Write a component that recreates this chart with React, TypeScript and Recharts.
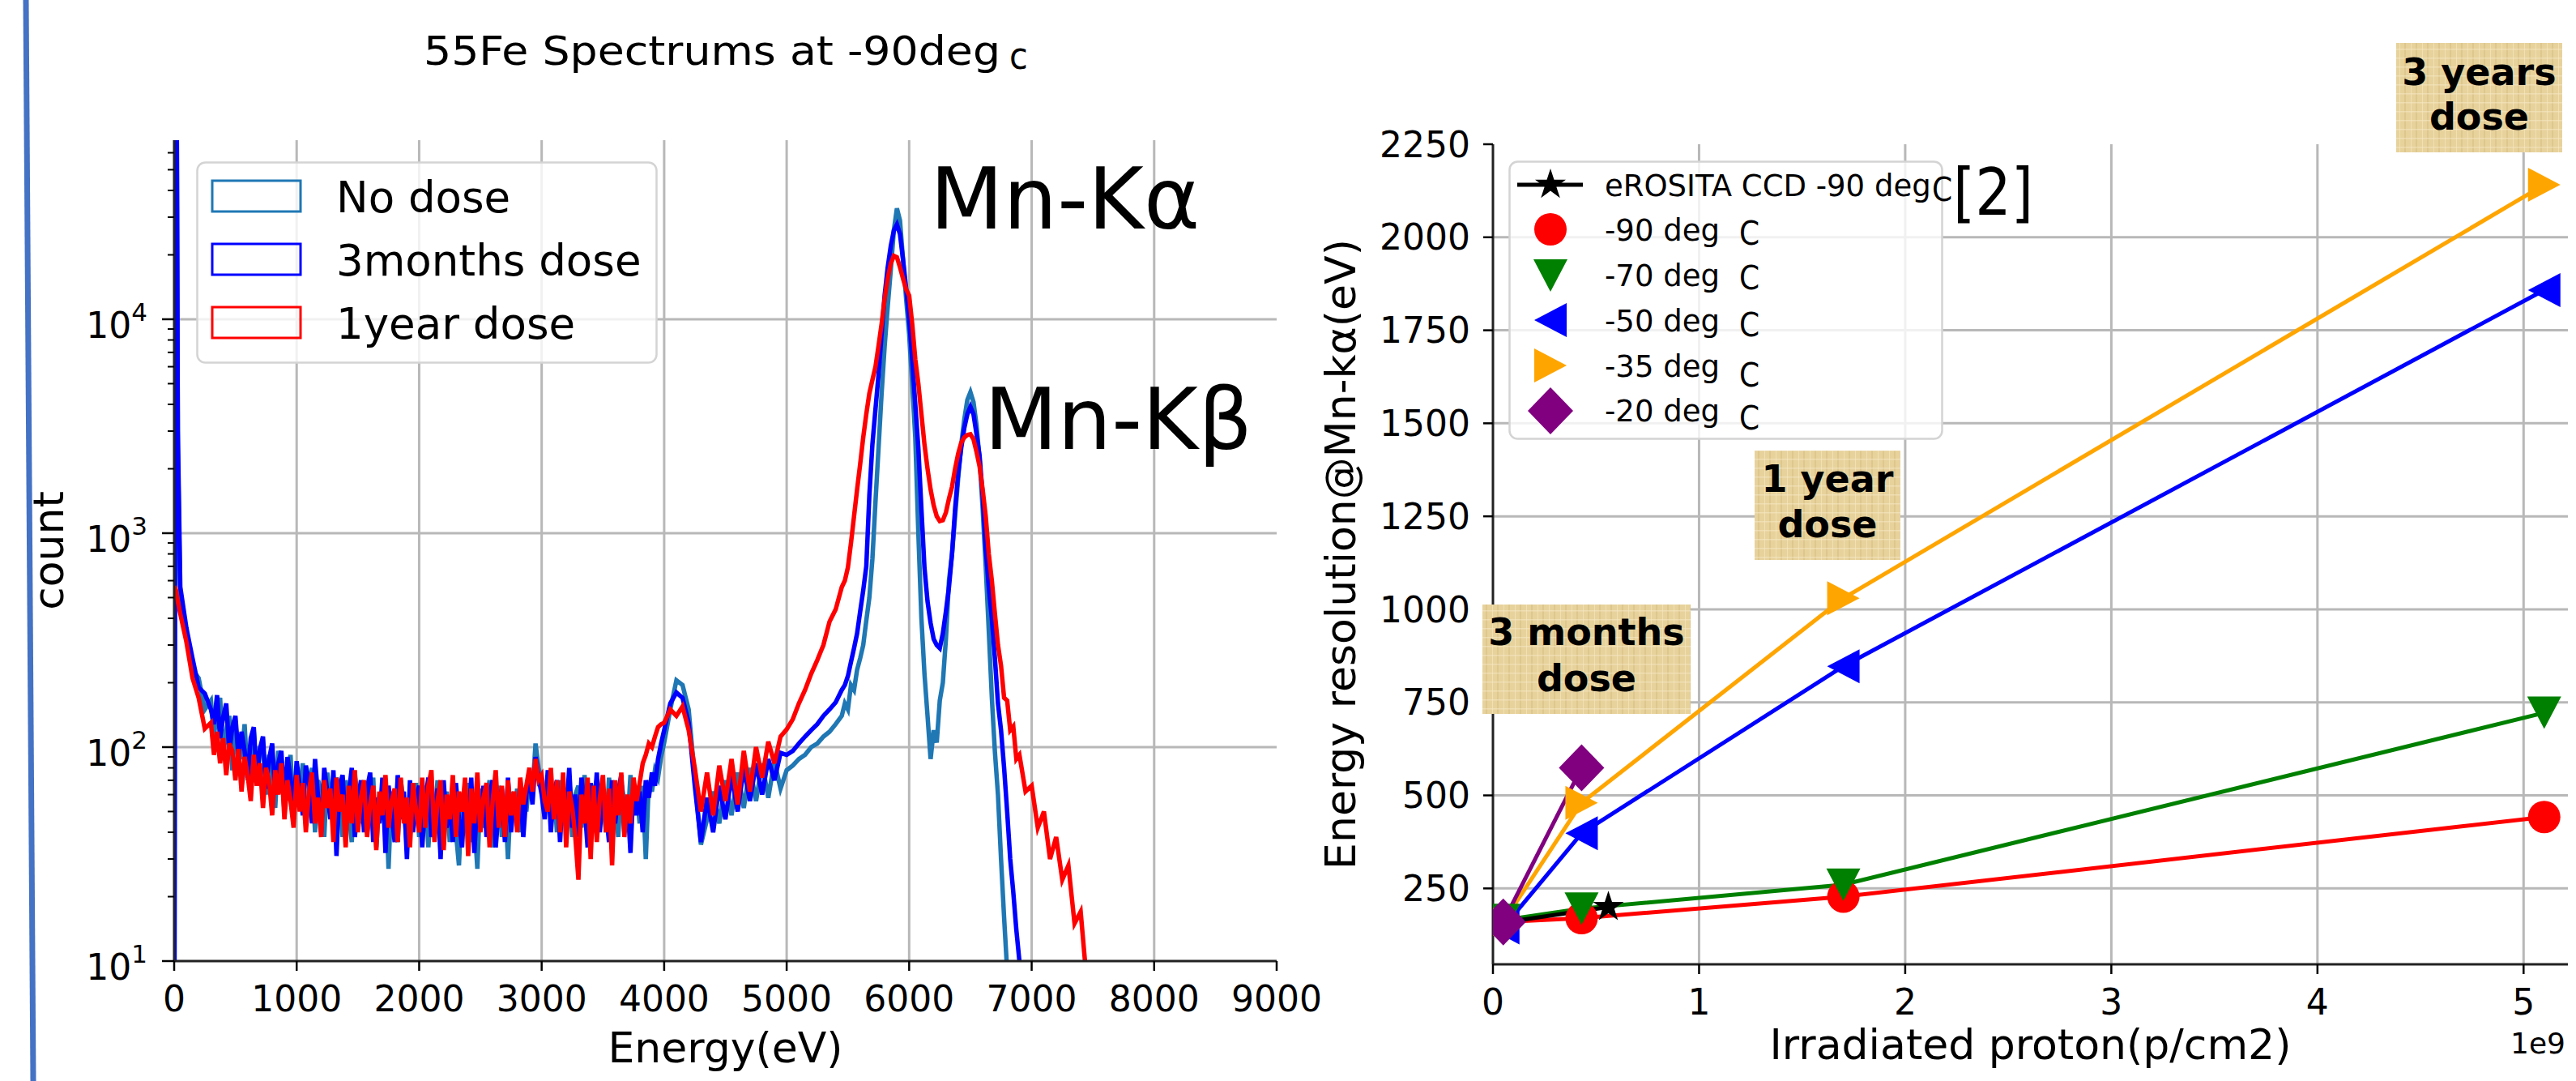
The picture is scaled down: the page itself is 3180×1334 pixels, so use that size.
import React from 'react';
import { LineChart, Line, XAxis, YAxis, CartesianGrid, Legend } from 'recharts';

const F = "'DejaVu Sans', 'Noto Sans', sans-serif";
const FB = "'DejaVu Sans', 'Noto Sans', sans-serif";
const FC = "'DejaVu Sans Condensed', 'DejaVu Sans', sans-serif";

// ---------------- Left chart: 55Fe spectra ----------------
const ENERGY = [0, 15, 30,
  50, 100, 150, 200, 250,
  300, 325, 350, 375, 400, 425, 450, 475, 500, 525,
  550, 575, 600, 625, 650, 675, 700, 725, 750, 775,
  800, 825, 850, 875, 900, 925, 950, 975, 1000, 1025,
  1050, 1075, 1100, 1125, 1150, 1175, 1200, 1225, 1250, 1275,
  1300, 1325, 1350, 1375, 1400, 1425, 1450, 1475, 1500, 1525,
  1550, 1575, 1600, 1625, 1650, 1675, 1700, 1725, 1750, 1775,
  1800, 1825, 1850, 1875, 1900, 1925, 1950, 1975, 2000, 2025,
  2050, 2075, 2100, 2125, 2150, 2175, 2200, 2225, 2250, 2275,
  2300, 2325, 2350, 2375, 2400, 2425, 2450, 2475, 2500, 2525,
  2550, 2575, 2600, 2625, 2650, 2675, 2700, 2725, 2750, 2775,
  2800, 2825, 2850, 2875, 2900, 2925, 2950, 2975, 3000, 3025,
  3050, 3075, 3100, 3125, 3150, 3175, 3200, 3225, 3250, 3275,
  3300, 3325, 3350, 3375, 3400, 3425, 3450, 3475, 3500, 3525,
  3550, 3575, 3600, 3625, 3650, 3675, 3700, 3725, 3750, 3775,
  3800, 3825, 3850, 3875, 3900, 3925, 3950, 3975,
  4000,
  4050, 4100, 4150, 4200, 4250, 4300, 4350, 4400, 4450, 4500,
  4550, 4600, 4650, 4700, 4750, 4800, 4850, 4900, 4950, 5000,
  5050, 5100, 5150, 5200, 5250, 5300, 5350, 5400, 5450,
  5475, 5500, 5525, 5550, 5575, 5600, 5625, 5650, 5675, 5700,
  5725, 5750, 5775, 5800, 5825, 5850, 5875, 5900, 5925, 5950,
  5975, 6000, 6025, 6050, 6075, 6100, 6125, 6150, 6175, 6200,
  6225, 6250, 6275, 6300, 6325, 6350, 6375, 6400, 6425, 6450,
  6475, 6500, 6525, 6550, 6575, 6600, 6625, 6650, 6675, 6700,
  6725, 6750, 6775, 6800, 6825, 6850, 6875, 6900,
  6950, 7000, 7050, 7100, 7150, 7200, 7250, 7300, 7350, 7400, 7450, 7500];

const NO_DOSE = [1, 1000000, 2500,
  470, 340, 230, 210, 150,
  165, 112, 150, 170, 92, 120, 140, 78, 128, 95,
  88, 128, 70, 84, 118, 66, 100, 104, 60, 92,
  70, 52, 96, 84, 50, 74, 92, 46, 80, 60,
  84, 44, 58, 80, 40, 70, 62, 38, 76, 54,
  46, 72, 64, 38, 70, 50, 36, 74, 58, 44,
  70, 40, 60, 72, 34, 56, 46, 68, 27, 62,
  48, 36, 70, 54, 34, 64, 42, 68, 38, 52,
  66, 34, 58, 44, 70, 32, 54, 62, 36, 66,
  40, 28, 60, 50, 68, 36, 46, 27, 64, 42,
  56, 70, 34, 48, 66, 38, 58, 30, 62, 46,
  64, 40, 58, 50, 72, 62, 104, 80, 70, 52,
  74, 46, 64, 40, 70, 56, 44, 72, 38, 60,
  66, 42, 74, 48, 36, 62, 70, 44, 58, 40,
  72, 46, 60, 38, 68, 56, 42, 74, 50, 62,
  44, 66, 30, 70, 62, 78, 72, 90,
  105,
  150, 205, 195, 150, 72, 35, 46, 62, 44, 70,
  48, 76, 52, 80, 56, 84, 58, 86, 64, 78,
  82, 88, 92, 100, 104, 112, 118, 128, 140,
  160, 150, 195, 185, 230, 260, 300, 390, 500, 760,
  1400, 2500, 4500, 7500, 11500, 17000, 26000, 33000, 29000, 19000,
  12500, 8500, 5000, 2800, 1000, 400, 220, 140, 88, 120,
  105, 165, 200, 320, 600, 800, 1200, 1800, 2600, 3400,
  4200, 4560, 4100, 3200, 2200, 1300, 700, 350, 170, 95,
  60, 30, 16, 9, 6, 4, 3, 2,
  null, null, null, null, null, null, null, null, null, null, null, null];

const MONTHS3 = [1, 1000000, 3000,
  560, 360, 260, 190, 178,
  150, 128, 175, 110, 138, 160, 96, 124, 140, 90,
  118, 96, 72, 110, 124, 70, 98, 112, 64, 88,
  104, 60, 84, 96, 54, 90, 72, 50, 86, 66,
  48, 82, 70, 44, 88, 58, 40, 80, 62, 46,
  78, 31, 66, 74, 42, 60, 80, 38, 56, 70,
  40, 64, 76, 36, 58, 44, 72, 32, 66, 50,
  36, 74, 46, 62, 30, 70, 40, 58, 66, 34,
  56, 72, 38, 50, 64, 30, 70, 42, 56, 36,
  68, 46, 34, 62, 40, 72, 32, 58, 44, 66,
  38, 60, 70, 34, 52, 64, 36, 72, 40, 58,
  46, 66, 38, 60, 74, 54, 90, 72, 60, 46,
  78, 40, 62, 70, 36, 66, 48, 80, 42, 60,
  38, 72, 54, 34, 68, 46, 76, 40, 64, 50,
  36, 70, 44, 62, 74, 40, 58, 32, 66, 48,
  62, 40, 70, 58, 76, 66, 88, 104,
  120,
  160, 180, 170, 130, 66, 36, 58, 40, 66, 46,
  74, 50, 80, 56, 84, 60, 88, 70, 94, 92,
  96, 104, 112, 120, 128, 140, 150, 162, 185,
  195, 215, 250, 290, 340, 430, 540, 700, 1500, 2600,
  3800, 5500, 8500, 13000, 17500, 22000, 26000, 27700, 25000, 19000,
  14000, 10000, 6500, 4000, 2500, 1300, 690, 480, 380, 320,
  300, 290, 340, 430, 560, 800, 1300, 1900, 2500, 3100,
  3600, 3900, 3600, 2900, 2300, 1500, 850, 560, 400, 260,
  160, 120, 80, 50, 30, 21, 14, 10,
  6, null, null, null, null, null, null, null, null, null, null, null];

const YEAR1 = [565, 540, 480,
  420, 310, 210, 170, 122,
  130, 92, 118, 84, 110, 74, 104, 96, 70, 98,
  62, 90, 74, 56, 92, 66, 84, 52, 80, 70,
  48, 78, 60, 84, 46, 70, 56, 42, 74, 50,
  68, 40, 62, 76, 44, 58, 38, 70, 52, 64,
  36, 72, 50, 60, 34, 66, 44, 78, 40, 58,
  70, 38, 54, 66, 33, 62, 48, 74, 42, 56,
  64, 36, 72, 44, 58, 34, 68, 50, 40, 72,
  42, 66, 78, 36, 56, 70, 33, 60, 46, 74,
  38, 62, 50, 72, 31, 64, 44, 76, 40, 58,
  68, 34, 56, 78, 42, 66, 38, 70, 48, 62,
  40, 72, 54, 66, 80, 62, 88, 70, 74, 56,
  50, 80, 46, 70, 40, 76, 34, 62, 52, 38,
  24, 60, 44, 72, 30, 66, 36, 58, 74, 40,
  64, 28, 70, 48, 76, 38, 60, 44, 72, 56,
  68, 84, 92, 104, 100, 112, 124, 128,
  130,
  150, 140, 155, 120, 80, 50, 76, 48, 82, 56,
  88, 54, 96, 62, 100, 72, 106, 84, 112, 121,
  135, 160, 185, 220, 255, 300, 386, 440, 560,
  600, 692, 900, 1200, 1600, 2100, 2800, 3600, 4500, 5200,
  6000, 7500, 9500, 12500, 15500, 18200, 19800, 19500, 17500, 15500,
  13800, 12900, 9500, 6500, 5000, 3600, 2600, 2000, 1600, 1350,
  1200, 1140, 1150, 1250, 1450, 1650, 2000, 2350, 2650, 2800,
  2880, 2900, 2750, 2400, 2050, 1600, 1200, 800, 600, 420,
  300, 240, 170, 165, 120, 125, 88, 92,
  62, 66, 42, 50, 30, 38, 24, 28, 15, 17, 8, null];

const SPEC_SERIES = [
  { key: 'noDose', name: 'No dose', color: '#1f77b4' },
  { key: 'm3', name: '3months dose', color: '#0000ff' },
  { key: 'y1', name: '1year dose', color: '#ff0000' },
];
const E_TICKS = [0, 1000, 2000, 3000, 4000, 5000, 6000, 7000, 8000, 9000];
const E_GRID = [1000, 2000, 3000, 4000, 5000, 6000, 7000, 8000];
const COUNT_MAJOR = [10, 100, 1000, 10000];
const COUNT_MINOR = [20, 30, 40, 50, 60, 70, 80, 90, 200, 300, 400, 500, 600, 700, 800, 900,
  2000, 3000, 4000, 5000, 6000, 7000, 8000, 9000, 20000, 30000, 40000, 50000, 60000];
const COUNT_TICKS = [...COUNT_MAJOR, ...COUNT_MINOR].sort((a, b) => a - b);
const COUNT_GRID = [100, 1000, 10000];
const COUNT_DOMAIN = [10, 68700];

const specData = ENERGY.map((e, i) => ({ e, noDose: NO_DOSE[i], m3: MONTHS3[i], y1: YEAR1[i] }));

// ---------------- Right chart: energy resolution ----------------
const PROTON = [0.05, 0.43, 1.7, 5.1];
const EROSITA_PROTON = [0.05, 0.56];
const RES_EROSITA = [158, 200];
const RES_M90 = [160, 170, 228, 442];
const RES_M70 = [165, 196, 260, 722];
const RES_M50 = [145, 398, 847, 1858];
const RES_M35 = [160, 480, 1030, 2141];
const RES_M20 = [160, 574];

const RES_SERIES = [
  { id: 'm90', name: '-90 deg', color: '#ff0000', marker: 'circle', xs: PROTON, ys: RES_M90 },
  { id: 'm70', name: '-70 deg', color: '#008000', marker: 'down', xs: PROTON, ys: RES_M70 },
  { id: 'm50', name: '-50 deg', color: '#0000ff', marker: 'left', xs: PROTON, ys: RES_M50 },
  { id: 'm35', name: '-35 deg', color: '#ffa500', marker: 'right', xs: PROTON, ys: RES_M35 },
  { id: 'ero', name: 'eROSITA CCD -90 deg', color: '#000000', marker: 'star', xs: EROSITA_PROTON, ys: RES_EROSITA },
  { id: 'm20', name: '-20 deg', color: '#800080', marker: 'diamond', xs: PROTON, ys: RES_M20 },
];
const LEGEND_ORDER = ['ero', 'm90', 'm70', 'm50', 'm35', 'm20'];
const P_TICKS = [0, 1, 2, 3, 4, 5];
const P_GRID = [1, 2, 3, 4, 5];
const R_TICKS = [250, 500, 750, 1000, 1250, 1500, 1750, 2000, 2250];
const R_GRID = [250, 500, 750, 1000, 1250, 1500, 1750, 2000];

// ---------------- helpers ----------------
function starPath(cx: number, cy: number, R: number) {
  const r = R * 0.382;
  let d = '';
  for (let i = 0; i < 10; i++) {
    const a = -Math.PI / 2 + (i * Math.PI) / 5;
    const rad = i % 2 === 0 ? R : r;
    d += (i ? 'L' : 'M') + (cx + rad * Math.cos(a)).toFixed(1) + ',' + (cy + rad * Math.sin(a)).toFixed(1);
  }
  return d + 'Z';
}

function Marker({ kind, cx, cy, color }: any) {
  if (cx == null || cy == null) return null;
  switch (kind) {
    case 'circle':
      return <circle cx={cx} cy={cy} r={20} fill={color} />;
    case 'down':
      return <path d={`M${cx - 21},${cy - 20}L${cx + 21},${cy - 20}L${cx},${cy + 20}Z`} fill={color} />;
    case 'left':
      return <path d={`M${cx - 20},${cy}L${cx + 20},${cy - 21}L${cx + 20},${cy + 21}Z`} fill={color} />;
    case 'right':
      return <path d={`M${cx + 20},${cy}L${cx - 20},${cy - 21}L${cx - 20},${cy + 21}Z`} fill={color} />;
    case 'diamond':
      return <path d={`M${cx},${cy - 29}L${cx + 28},${cy}L${cx},${cy + 29}L${cx - 28},${cy}Z`} fill={color} />;
    case 'star':
      return <path d={starPath(cx, cy, 20)} fill={color} />;
    default:
      return null;
  }
}

function LogTick(props: any) {
  const { x, y, payload } = props;
  const v = payload.value;
  const lg = Math.log10(v);
  const exp = Math.round(lg);
  const major = Math.abs(lg - exp) < 1e-6;
  return (
    <g>
      <line x1={x - (major ? 15 : 8)} x2={x} y1={y} y2={y} stroke="#000" strokeWidth={major ? 2.5 : 2} />
      {major && (
        <text x={x - 33} y={y + 23} textAnchor="end" fontFamily={F} fontSize={44} fill="#000">
          10<tspan dy={-21} fontSize={31}>{exp}</tspan>
        </text>
      )}
    </g>
  );
}

function LeftLegend() {
  const rowsY = [24, 102, 180];
  return (
    <svg width={570} height={250} style={{ display: 'block' }}>
      <rect x={1.5} y={1.5} width={567} height={247} rx={10} ry={10} fill="rgba(255,255,255,0.8)" stroke="#d4d4d4" strokeWidth={2.5} />
      {SPEC_SERIES.map((s, i) => (
        <g key={s.key}>
          <rect x={20} y={rowsY[i]} width={109} height={38} fill="none" stroke={s.color} strokeWidth={3} />
          <text x={173} y={rowsY[i] + 39} fontFamily={F} fontSize={53} fill="#000">{s.name}</text>
        </g>
      ))}
    </svg>
  );
}

function RightLegend() {
  const cys = [30, 85, 142, 197, 253, 309];
  const bases = [44, 99, 155, 211, 267, 322];
  return (
    <svg width={537} height={345} style={{ display: 'block' }}>
      <rect x={1.5} y={1.5} width={534} height={342} rx={10} ry={10} fill="rgba(255,255,255,0.8)" stroke="#d4d4d4" strokeWidth={2.5} />
      {LEGEND_ORDER.map((id, i) => {
        const s = RES_SERIES.find((r) => r.id === id)!;
        return (
          <g key={id}>
            {id === 'ero' && <line x1={11} x2={92} y1={cys[i]} y2={cys[i]} stroke="#000" strokeWidth={5} />}
            <Marker kind={s.marker} cx={52} cy={cys[i]} color={s.color} />
            <text x={119} y={bases[i]} fontFamily={F} fontSize={37} fill="#000">{s.name}</text>
          </g>
        );
      })}
    </svg>
  );
}

function Box({ x, y, w, h, lines, bases }: any) {
  return (
    <g>
      <rect x={x} y={y} width={w} height={h} fill="url(#papyrus)" />
      {lines.map((t: string, i: number) => (
        <text key={i} x={x + w / 2} y={bases[i]} textAnchor="middle" fontFamily={FB} fontWeight="bold" fontSize={46} fill="#000">{t}</text>
      ))}
    </g>
  );
}

const axisStroke = { stroke: '#222', strokeWidth: 3 };
const tickFont = { fontSize: 44, fill: '#000', fontFamily: F };
const labelStyle = { fontSize: 52, fill: '#000', fontFamily: F };

export default function App() {
  return (
    <div style={{ position: 'absolute', left: 0, top: 0, width: 3180, height: 1334, background: '#fff', overflow: 'hidden' }}>
      {/* Left chart */}
      <div style={{ position: 'absolute', left: 0, top: 0 }}>
        <LineChart width={1660} height={1334} data={specData} margin={{ top: 173, right: 84, bottom: 0, left: 0 }}>
          <CartesianGrid horizontalValues={COUNT_GRID} verticalValues={E_GRID} stroke="#b8b8b8" strokeWidth={3} />
          <XAxis
            dataKey="e" type="number" domain={[0, 9000]} ticks={E_TICKS} interval={0} allowDataOverflow
            height={148} tickSize={12} tickMargin={19} tick={tickFont}
            tickLine={{ stroke: '#000', strokeWidth: 2.5 }} axisLine={axisStroke}
            label={{ value: 'Energy(eV)', position: 'insideBottom', offset: 23, style: labelStyle }}
          />
          <XAxis xAxisId="top" orientation="top" type="number" domain={[0, 1]} height={0} tick={false} tickLine={false} axisLine={axisStroke} />
          <YAxis
            type="number" scale="log" domain={COUNT_DOMAIN} allowDataOverflow ticks={COUNT_TICKS} interval={0}
            width={215} tickSize={0} tickMargin={0} tickLine={false} tick={LogTick} axisLine={axisStroke}
            label={{ value: 'count', angle: -90, position: 'insideLeft', offset: 60, style: { ...labelStyle, textAnchor: 'middle' } }}
          />
          <YAxis yAxisId="right" orientation="right" type="number" domain={[0, 1]} width={0} tick={false} tickLine={false} axisLine={axisStroke} />
          {SPEC_SERIES.map((s) => (
            <Line key={s.key} type="linear" dataKey={s.key} name={s.name} stroke={s.color} strokeWidth={5.5}
              dot={false} activeDot={false} isAnimationActive={false} connectNulls={false} />
          ))}
          <Legend layout="horizontal" verticalAlign="middle" align="center"
            wrapperStyle={{ left: 242, top: 199, width: 570, height: 250 }} content={() => <LeftLegend />} />
        </LineChart>
      </div>

      {/* Right chart */}
      <div style={{ position: 'absolute', left: 1600, top: 0 }}>
        <LineChart width={1580} height={1334} margin={{ top: 178, right: 10, bottom: 0, left: 0 }}>
          <CartesianGrid horizontalValues={R_GRID} verticalValues={P_GRID} stroke="#b8b8b8" strokeWidth={3} />
          <XAxis
            dataKey="x" type="number" domain={[0, 5.215]} ticks={P_TICKS} interval={0} allowDataOverflow
            height={144} tickSize={12} tickMargin={19} tick={tickFont}
            tickLine={{ stroke: '#000', strokeWidth: 2.5 }} axisLine={axisStroke}
            label={{ value: 'Irradiated proton(p/cm2)', position: 'insideBottom', offset: 27, style: labelStyle }}
          />
          <XAxis xAxisId="top" orientation="top" type="number" domain={[0, 1]} height={0} tick={false} tickLine={false} axisLine={axisStroke} />
          <YAxis
            type="number" domain={[46, 2250]} allowDataOverflow ticks={R_TICKS} interval={0}
            width={243} tickSize={12} tickMargin={16} tick={tickFont}
            tickLine={{ stroke: '#000', strokeWidth: 2.5 }} axisLine={axisStroke}
            label={{ value: 'Energy resolution@Mn-kα(eV)', angle: -90, position: 'insideLeft', offset: 55, style: { ...labelStyle, textAnchor: 'middle' } }}
          />
          <YAxis yAxisId="right" orientation="right" type="number" domain={[0, 1]} width={0} tick={false} tickLine={false} axisLine={axisStroke} />
          {RES_SERIES.map((s) => (
            <Line key={s.id} type="linear" dataKey="y" name={s.name}
              data={s.ys.map((y, i) => ({ x: s.xs[i], y }))}
              stroke={s.color} strokeWidth={5} activeDot={false} isAnimationActive={false}
              dot={(p: any) => <Marker key={`${s.id}-${p.index}`} kind={s.marker} cx={p.cx} cy={p.cy} color={s.color} />}
            />
          ))}
          <Legend layout="horizontal" verticalAlign="middle" align="center"
            wrapperStyle={{ left: 262, top: 198, width: 537, height: 345 }} content={() => <RightLegend />} />
        </LineChart>
      </div>

      {/* Annotations overlay */}
      <svg width={3180} height={1334} style={{ position: 'absolute', left: 0, top: 0, pointerEvents: 'none' }}>
        <defs>
          <pattern id="papyrus" width="14" height="11" patternUnits="userSpaceOnUse">
            <rect width="14" height="11" fill="#e7d29c" />
            <rect x="0" y="0" width="2" height="11" fill="#d6bd82" opacity="0.55" />
            <rect x="8" y="0" width="1" height="11" fill="#f4e6bd" opacity="0.7" />
            <rect x="0" y="5" width="14" height="1.5" fill="#f6e9c6" opacity="0.55" />
          </pattern>
        </defs>
        <line x1={32} y1={0} x2={41} y2={1334} stroke="#4472c4" strokeWidth={7} />
        <text x={523} y={80} fontFamily={F} fontSize={49} fill="#000" textLength={712} lengthAdjust="spacingAndGlyphs">55Fe Spectrums at -90deg</text>
        <text x={1246} y={85} fontFamily={FC} fontSize={46} fill="#000">c</text>
        <text x={1148} y={282} fontFamily={F} fontSize={105} fill="#000">Mn-Kα</text>
        <text x={1215} y={554} fontFamily={F} fontSize={105} fill="#000">Mn-Kβ</text>
        <text x={2385} y={248} fontFamily={FC} fontSize={40} fill="#000">C</text>
        {[302, 357, 415, 477, 530].map((b) => (
          <text key={b} x={2147} y={b} fontFamily={FC} fontSize={40} fill="#000">C</text>
        ))}
        <text x={2411} y={265} fontFamily={FC} fontSize={80} fill="#000" textLength={99} lengthAdjust="spacingAndGlyphs">[2]</text>
        <Box x={2958} y={53} w={205} h={135} lines={['3 years', 'dose']} bases={[105, 160]} />
        <Box x={2166} y={556} w={180} h={135} lines={['1 year', 'dose']} bases={[607, 663]} />
        <Box x={1830} y={746} w={257} h={135} lines={['3 months', 'dose']} bases={[796, 853]} />
        <text x={3167} y={1300} textAnchor="end" fontFamily={F} fontSize={36} fill="#000">1e9</text>
      </svg>
    </div>
  );
}
